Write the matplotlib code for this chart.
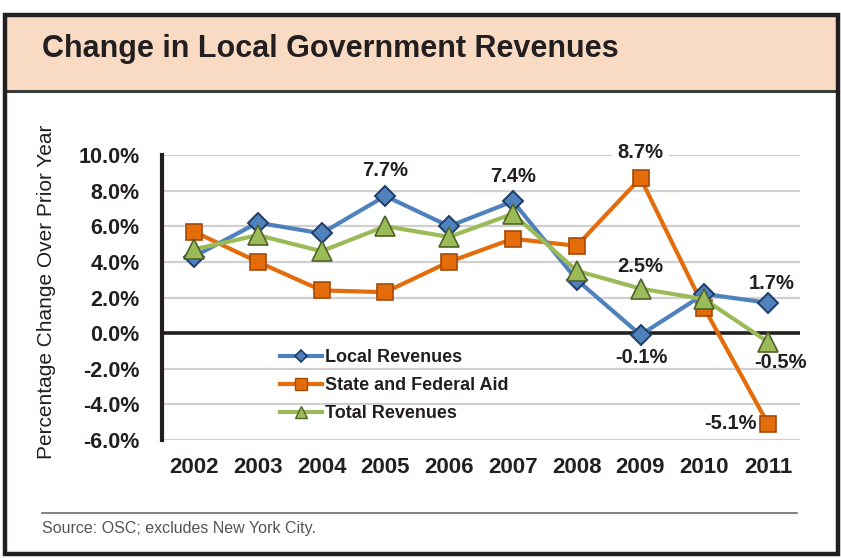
import matplotlib
matplotlib.use("Agg")
import matplotlib.pyplot as plt
from matplotlib.patches import Rectangle
from matplotlib.lines import Line2D

plt.rcParams["font.family"] = ["Liberation Sans", "DejaVu Sans"]

# ---- data -------------------------------------------------------------
years = ["2002", "2003", "2004", "2005", "2006", "2007", "2008", "2009", "2010", "2011"]
local_revenues = [4.3, 6.2, 5.6, 7.7, 6.0, 7.4, 3.0, -0.1, 2.2, 1.7]
state_federal_aid = [5.7, 4.0, 2.4, 2.3, 4.0, 5.3, 4.9, 8.7, 1.4, -5.1]
total_revenues = [4.7, 5.5, 4.6, 6.0, 5.4, 6.7, 3.5, 2.5, 1.9, -0.5]
y_ticks = [-6, -4, -2, 0, 2, 4, 6, 8, 10]

TXT = "#231F20"
BLUE, BLUE_EDGE = "#4F81BD", "#1F3D66"
ORANGE, ORANGE_EDGE = "#E46C0A", "#A24A08"
GREEN, GREEN_EDGE = "#9BBB59", "#4F6228"

W, H = 841, 558
fig = plt.figure(figsize=(W / 100, H / 100), dpi=100)
fig.patch.set_facecolor("white")


def fx(px):
    return px / W


def fy(py):
    return 1 - py / H


# header band and outer frame
fig.patches.append(Rectangle((fx(5), fy(91)), fx(833), 76 / H, transform=fig.transFigure,
                             facecolor="#F9DBC4", edgecolor="none", zorder=0))
fig.lines.append(Line2D([fx(5), fx(838)], [fy(91), fy(91)], transform=fig.transFigure,
                        color="#3A3A3A", lw=2.2))
fig.patches.append(Rectangle((fx(5), fy(554)), fx(833), 539 / H, transform=fig.transFigure,
                             facecolor="none", edgecolor=TXT, lw=3.2, zorder=10))
fig.text(fx(42), fy(48.5), "Change in Local Government Revenues", fontsize=22,
         fontweight="bold", color=TXT, ha="left", va="center")

# source note
fig.lines.append(Line2D([fx(42), fx(797)], [fy(513), fy(513)], transform=fig.transFigure,
                        color="#6D6D6D", lw=1.2))
fig.text(fx(42), fy(528), "Source: OSC; excludes New York City.", fontsize=11.5,
         color="#555555", ha="left", va="center")

# ---- chart area ----------------------------------------------------------
ax = fig.add_axes([fx(162), fy(440), (800 - 162) / W, (440 - 155) / H])
x = list(range(len(years)))

ax.set_xlim(-0.5, len(years) - 0.5)
ax.set_ylim(-6, 10)
ax.set_yticks(y_ticks)
ax.set_yticklabels([f"{v:.1f}%" for v in y_ticks])
ax.set_xticks(x)
ax.set_xticklabels(years)
for lab in ax.get_yticklabels() + ax.get_xticklabels():
    lab.set_fontweight("bold")
    lab.set_color(TXT)
ax.tick_params(axis="y", length=0, pad=16, labelsize=15.5)
ax.tick_params(axis="x", length=0, pad=12, labelsize=16)

ax.grid(axis="y", color="#D0D0D0", lw=1.6, zorder=0)
ax.set_axisbelow(True)
for s in ("top", "right", "bottom"):
    ax.spines[s].set_visible(False)
ax.spines["left"].set_color(TXT)
ax.spines["left"].set_linewidth(3)
ax.axhline(0, color=TXT, lw=2.6, zorder=2)

ax.plot(x, state_federal_aid, color=ORANGE, lw=3, marker="s", ms=11.5,
        mfc=ORANGE, mec=ORANGE_EDGE, mew=1.2, zorder=3)
ax.plot(x, local_revenues, color=BLUE, lw=3, marker="D", ms=10,
        mfc=BLUE, mec=BLUE_EDGE, mew=1.4, zorder=4)
ax.plot(x, total_revenues, color=GREEN, lw=3, marker="^", ms=14,
        mfc=GREEN, mec=GREEN_EDGE, mew=1.2, zorder=5)

fig.text(fx(47), fy(292), "Percentage Change Over Prior Year", rotation=90,
         fontsize=15, color=TXT, ha="center", va="center")

# value labels
lab_kw = dict(textcoords="offset pixels", fontsize=14.5, fontweight="bold", color=TXT,
              va="center", zorder=6)


def label(series, i, dx, dy, ha="center", **extra):
    v = series[i]
    ax.annotate(f"{v:.1f}%", (x[i], v), xytext=(dx, dy), ha=ha, **lab_kw, **extra)


label(local_revenues, 3, 0, 25)
label(local_revenues, 5, 0, 25)
label(state_federal_aid, 7, 0, 26,
      bbox=dict(boxstyle="square,pad=0.25", fc="white", ec="none"))
label(total_revenues, 7, 0, 22)
label(local_revenues, 9, 4, 19)
label(local_revenues, 7, 1, -23)
label(total_revenues, 9, 12, -20)
label(state_federal_aid, 9, -11, 0, ha="right")

# legend
handles = [
    Line2D([], [], color=BLUE, lw=3, marker="D", ms=6.5, mfc=BLUE, mec=BLUE_EDGE, mew=1.2),
    Line2D([], [], color=ORANGE, lw=3, marker="s", ms=8, mfc=ORANGE, mec=ORANGE_EDGE, mew=1.0),
    Line2D([], [], color=GREEN, lw=3, marker="^", ms=8.5, mfc=GREEN, mec=GREEN_EDGE, mew=1.0),
]
names = ["Local Revenues", "State and Federal Aid", "Total Revenues"]
leg = fig.legend(handles, names, loc="upper left", bbox_to_anchor=(fx(280), fy(349)),
                 frameon=False, borderpad=0, borderaxespad=0, handlelength=2.3,
                 handletextpad=0.2, labelspacing=0.62,
                 prop=dict(family=["Liberation Sans", "DejaVu Sans"], weight="bold", size=13))
for t in leg.get_texts():
    t.set_color(TXT)

fig.savefig("out.png", dpi=100)
